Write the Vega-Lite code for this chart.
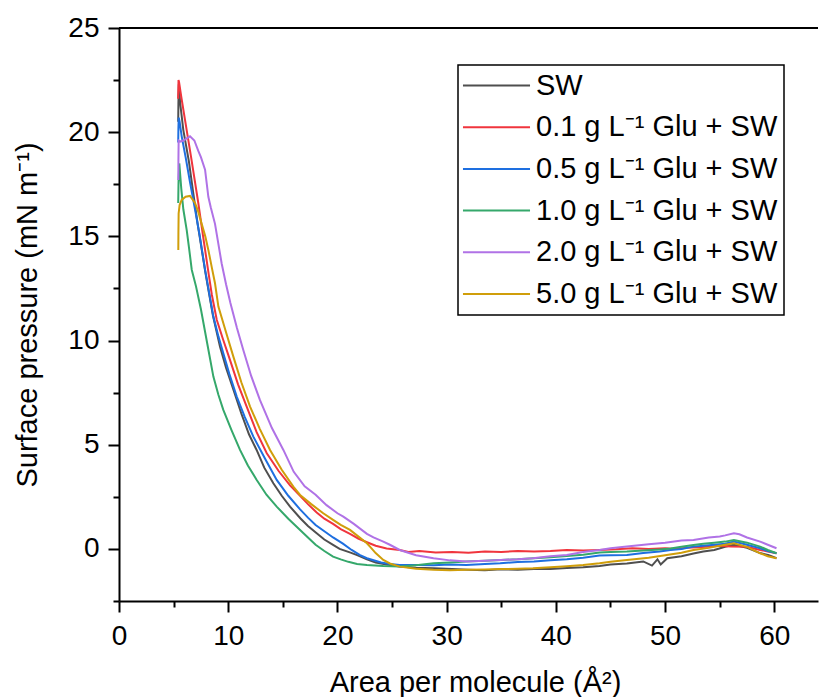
{
"$schema": "https://vega.github.io/schema/vega-lite/v6.json",
"width": 699,
"height": 573,
"autosize": "none",
"padding": {"left": 119, "top": 28, "right": 2, "bottom": 96},
"config": {"font": "Liberation Sans", "view": {"stroke": null}, "legend": {"strokeWidth": 1.5}},
"layer": [
{"data": {"values": [{}]}, "mark": {"type": "rule", "color": "black", "strokeWidth": 2}, "encoding": {"y": {"datum": 25, "type": "quantitative"}}},
{"data": {"values": [
{"s":"SW","x":60.2,"y":-0.45},{"s":"SW","x":59.5,"y":-0.3},{"s":"SW","x":58.7,"y":-0.2},{"s":"SW","x":57.5,"y":0.05},{"s":"SW","x":56.3,"y":0.2},{"s":"SW","x":55.5,"y":0.1},{"s":"SW","x":54.5,"y":-0.05},{"s":"SW","x":53.5,"y":-0.12},{"s":"SW","x":52.6,"y":-0.22},{"s":"SW","x":51.5,"y":-0.35},{"s":"SW","x":50.2,"y":-0.45},{"s":"SW","x":49.6,"y":-0.75},{"s":"SW","x":49.3,"y":-0.5},{"s":"SW","x":48.8,"y":-0.8},{"s":"SW","x":48,"y":-0.6},{"s":"SW","x":46.5,"y":-0.7},{"s":"SW","x":45,"y":-0.75},{"s":"SW","x":44,"y":-0.82},{"s":"SW","x":42.5,"y":-0.88},{"s":"SW","x":41,"y":-0.92},{"s":"SW","x":39.5,"y":-0.97},{"s":"SW","x":38,"y":-0.96},{"s":"SW","x":36.5,"y":-1.0},{"s":"SW","x":35,"y":-0.98},{"s":"SW","x":33.5,"y":-1.02},{"s":"SW","x":32,"y":-1.0},{"s":"SW","x":30.5,"y":-0.97},{"s":"SW","x":28.8,"y":-0.93},{"s":"SW","x":27.2,"y":-0.9},{"s":"SW","x":25.7,"y":-0.85},{"s":"SW","x":24.5,"y":-0.75},{"s":"SW","x":23.5,"y":-0.65},{"s":"SW","x":22.7,"y":-0.5},{"s":"SW","x":21.8,"y":-0.3},{"s":"SW","x":21.2,"y":-0.18},{"s":"SW","x":20.2,"y":0.0},{"s":"SW","x":19.6,"y":0.19},{"s":"SW","x":18.8,"y":0.45},{"s":"SW","x":18.1,"y":0.75},{"s":"SW","x":17.3,"y":1.1},{"s":"SW","x":16.6,"y":1.47},{"s":"SW","x":15.66,"y":2.03},{"s":"SW","x":14.9,"y":2.55},{"s":"SW","x":14.13,"y":3.15},{"s":"SW","x":13.3,"y":3.9},{"s":"SW","x":12.6,"y":4.75},{"s":"SW","x":11.9,"y":5.5},{"s":"SW","x":11.2,"y":6.5},{"s":"SW","x":10.5,"y":7.6},{"s":"SW","x":9.8,"y":8.7},{"s":"SW","x":9.25,"y":9.7},{"s":"SW","x":8.6,"y":11.2},{"s":"SW","x":7.9,"y":13.3},{"s":"SW","x":7.2,"y":15.6},{"s":"SW","x":6.8,"y":17.07},{"s":"SW","x":6.4,"y":18.6},{"s":"SW","x":5.89,"y":20.1},{"s":"SW","x":5.6,"y":21.4},{"s":"SW","x":5.48,"y":22.3},{"s":"SW","x":5.44,"y":21.4},{"s":"SW","x":5.42,"y":20.5},
{"s":"0.1","x":60.2,"y":-0.21},{"s":"0.1","x":59.4,"y":-0.12},{"s":"0.1","x":58.7,"y":-0.05},{"s":"0.1","x":57.5,"y":0.1},{"s":"0.1","x":56,"y":0.11},{"s":"0.1","x":55,"y":0.15},{"s":"0.1","x":54.1,"y":0.11},{"s":"0.1","x":53,"y":0.08},{"s":"0.1","x":52,"y":0.05},{"s":"0.1","x":51,"y":0.0},{"s":"0.1","x":50,"y":0.03},{"s":"0.1","x":48.5,"y":0.0},{"s":"0.1","x":47,"y":0.03},{"s":"0.1","x":45.5,"y":-0.02},{"s":"0.1","x":44,"y":-0.05},{"s":"0.1","x":42.5,"y":-0.08},{"s":"0.1","x":41,"y":-0.05},{"s":"0.1","x":39.5,"y":-0.1},{"s":"0.1","x":38,"y":-0.12},{"s":"0.1","x":36.5,"y":-0.1},{"s":"0.1","x":35,"y":-0.15},{"s":"0.1","x":33.5,"y":-0.13},{"s":"0.1","x":32,"y":-0.18},{"s":"0.1","x":30.5,"y":-0.15},{"s":"0.1","x":29,"y":-0.17},{"s":"0.1","x":27.5,"y":-0.1},{"s":"0.1","x":26.5,"y":-0.15},{"s":"0.1","x":25.7,"y":-0.05},{"s":"0.1","x":24.5,"y":0.02},{"s":"0.1","x":23.5,"y":0.15},{"s":"0.1","x":22.7,"y":0.32},{"s":"0.1","x":21.9,"y":0.5},{"s":"0.1","x":21.15,"y":0.72},{"s":"0.1","x":20.3,"y":0.95},{"s":"0.1","x":19.6,"y":1.2},{"s":"0.1","x":18.8,"y":1.45},{"s":"0.1","x":18.1,"y":1.75},{"s":"0.1","x":17.3,"y":2.15},{"s":"0.1","x":16.58,"y":2.55},{"s":"0.1","x":15.66,"y":3.05},{"s":"0.1","x":14.6,"y":3.75},{"s":"0.1","x":13.53,"y":4.59},{"s":"0.1","x":12.6,"y":5.6},{"s":"0.1","x":11.69,"y":6.83},{"s":"0.1","x":10.9,"y":7.9},{"s":"0.1","x":10.16,"y":9.07},{"s":"0.1","x":9.5,"y":10.1},{"s":"0.1","x":8.95,"y":11.0},{"s":"0.1","x":8.5,"y":12.2},{"s":"0.1","x":8.18,"y":13.3},{"s":"0.1","x":7.7,"y":15.0},{"s":"0.1","x":7.26,"y":16.6},{"s":"0.1","x":6.6,"y":18.8},{"s":"0.1","x":6.04,"y":20.6},{"s":"0.1","x":5.7,"y":21.7},{"s":"0.1","x":5.5,"y":22.4},{"s":"0.1","x":5.45,"y":22.5},{"s":"0.1","x":5.43,"y":22.0},{"s":"0.1","x":5.41,"y":21.6},
{"s":"0.5","x":60.2,"y":-0.21},{"s":"0.5","x":59.4,"y":-0.1},{"s":"0.5","x":58.7,"y":0.03},{"s":"0.5","x":57.5,"y":0.2},{"s":"0.5","x":56.3,"y":0.35},{"s":"0.5","x":55.5,"y":0.25},{"s":"0.5","x":54.5,"y":0.2},{"s":"0.5","x":53.5,"y":0.15},{"s":"0.5","x":52.6,"y":0.11},{"s":"0.5","x":51.5,"y":0.0},{"s":"0.5","x":50.5,"y":-0.05},{"s":"0.5","x":49.5,"y":-0.12},{"s":"0.5","x":48,"y":-0.2},{"s":"0.5","x":46.5,"y":-0.29},{"s":"0.5","x":45,"y":-0.3},{"s":"0.5","x":44,"y":-0.32},{"s":"0.5","x":42.5,"y":-0.42},{"s":"0.5","x":41,"y":-0.5},{"s":"0.5","x":39.5,"y":-0.55},{"s":"0.5","x":38,"y":-0.61},{"s":"0.5","x":36.5,"y":-0.63},{"s":"0.5","x":34.9,"y":-0.69},{"s":"0.5","x":33.5,"y":-0.72},{"s":"0.5","x":31.8,"y":-0.77},{"s":"0.5","x":30.3,"y":-0.75},{"s":"0.5","x":28.8,"y":-0.78},{"s":"0.5","x":27.2,"y":-0.77},{"s":"0.5","x":25.7,"y":-0.77},{"s":"0.5","x":24.8,"y":-0.72},{"s":"0.5","x":24,"y":-0.65},{"s":"0.5","x":22.7,"y":-0.45},{"s":"0.5","x":22.07,"y":-0.3},{"s":"0.5","x":21.3,"y":-0.05},{"s":"0.5","x":20.5,"y":0.25},{"s":"0.5","x":19.6,"y":0.55},{"s":"0.5","x":18.8,"y":0.85},{"s":"0.5","x":18,"y":1.15},{"s":"0.5","x":17.3,"y":1.5},{"s":"0.5","x":16.58,"y":1.9},{"s":"0.5","x":15.5,"y":2.55},{"s":"0.5","x":14.44,"y":3.31},{"s":"0.5","x":13.4,"y":4.3},{"s":"0.5","x":12.3,"y":5.39},{"s":"0.5","x":11.5,"y":6.35},{"s":"0.5","x":10.78,"y":7.31},{"s":"0.5","x":10.1,"y":8.4},{"s":"0.5","x":9.55,"y":9.39},{"s":"0.5","x":9.1,"y":10.2},{"s":"0.5","x":8.64,"y":11.15},{"s":"0.5","x":8.25,"y":12.3},{"s":"0.5","x":7.88,"y":13.4},{"s":"0.5","x":7.4,"y":15.0},{"s":"0.5","x":6.96,"y":16.3},{"s":"0.5","x":6.5,"y":17.6},{"s":"0.5","x":6.1,"y":18.8},{"s":"0.5","x":5.74,"y":19.8},{"s":"0.5","x":5.55,"y":20.5},{"s":"0.5","x":5.47,"y":20.7},{"s":"0.5","x":5.44,"y":20.2},{"s":"0.5","x":5.42,"y":19.5},
{"s":"1.0","x":60.2,"y":-0.21},{"s":"1.0","x":59.4,"y":-0.05},{"s":"1.0","x":58.7,"y":0.11},{"s":"1.0","x":57.5,"y":0.3},{"s":"1.0","x":56.3,"y":0.43},{"s":"1.0","x":55.5,"y":0.35},{"s":"1.0","x":54.5,"y":0.3},{"s":"1.0","x":53.5,"y":0.25},{"s":"1.0","x":52.6,"y":0.19},{"s":"1.0","x":51.5,"y":0.1},{"s":"1.0","x":50.5,"y":0.02},{"s":"1.0","x":49.5,"y":-0.03},{"s":"1.0","x":48,"y":-0.08},{"s":"1.0","x":46.5,"y":-0.13},{"s":"1.0","x":45,"y":-0.15},{"s":"1.0","x":44,"y":-0.17},{"s":"1.0","x":42.5,"y":-0.28},{"s":"1.0","x":41,"y":-0.34},{"s":"1.0","x":39.5,"y":-0.4},{"s":"1.0","x":38,"y":-0.45},{"s":"1.0","x":36.5,"y":-0.5},{"s":"1.0","x":35,"y":-0.53},{"s":"1.0","x":33.5,"y":-0.57},{"s":"1.0","x":31.8,"y":-0.61},{"s":"1.0","x":30.3,"y":-0.65},{"s":"1.0","x":28.8,"y":-0.69},{"s":"1.0","x":27.2,"y":-0.78},{"s":"1.0","x":25.7,"y":-0.85},{"s":"1.0","x":24.2,"y":-0.82},{"s":"1.0","x":22.7,"y":-0.77},{"s":"1.0","x":21.8,"y":-0.72},{"s":"1.0","x":21,"y":-0.62},{"s":"1.0","x":20.3,"y":-0.5},{"s":"1.0","x":19.6,"y":-0.37},{"s":"1.0","x":18.8,"y":-0.1},{"s":"1.0","x":18,"y":0.2},{"s":"1.0","x":17.3,"y":0.55},{"s":"1.0","x":16.58,"y":0.91},{"s":"1.0","x":15.5,"y":1.45},{"s":"1.0","x":14.44,"y":2.03},{"s":"1.0","x":13.5,"y":2.6},{"s":"1.0","x":12.61,"y":3.31},{"s":"1.0","x":11.8,"y":4.0},{"s":"1.0","x":11.08,"y":4.75},{"s":"1.0","x":10.3,"y":5.7},{"s":"1.0","x":9.55,"y":6.67},{"s":"1.0","x":9.1,"y":7.4},{"s":"1.0","x":8.64,"y":8.27},{"s":"1.0","x":8.1,"y":9.8},{"s":"1.0","x":7.5,"y":11.5},{"s":"1.0","x":7.05,"y":12.6},{"s":"1.0","x":6.66,"y":13.4},{"s":"1.0","x":6.4,"y":14.5},{"s":"1.0","x":6.2,"y":15.3},{"s":"1.0","x":5.89,"y":16.3},{"s":"1.0","x":5.7,"y":17.3},{"s":"1.0","x":5.52,"y":18.5},{"s":"1.0","x":5.45,"y":17.6},{"s":"1.0","x":5.42,"y":16.6},
{"s":"2.0","x":60.2,"y":0.03},{"s":"2.0","x":59.4,"y":0.2},{"s":"2.0","x":58.7,"y":0.35},{"s":"2.0","x":57.5,"y":0.55},{"s":"2.0","x":56.8,"y":0.7},{"s":"2.0","x":56.3,"y":0.75},{"s":"2.0","x":55.5,"y":0.65},{"s":"2.0","x":55,"y":0.6},{"s":"2.0","x":54,"y":0.55},{"s":"2.0","x":52.6,"y":0.43},{"s":"2.0","x":51.5,"y":0.4},{"s":"2.0","x":50,"y":0.3},{"s":"2.0","x":48.5,"y":0.22},{"s":"2.0","x":46.5,"y":0.11},{"s":"2.0","x":45,"y":0.03},{"s":"2.0","x":44,"y":-0.05},{"s":"2.0","x":42.5,"y":-0.15},{"s":"2.0","x":41,"y":-0.29},{"s":"2.0","x":39.5,"y":-0.35},{"s":"2.0","x":37.9,"y":-0.45},{"s":"2.0","x":36.5,"y":-0.5},{"s":"2.0","x":34.9,"y":-0.53},{"s":"2.0","x":33.5,"y":-0.57},{"s":"2.0","x":31.8,"y":-0.61},{"s":"2.0","x":30.3,"y":-0.55},{"s":"2.0","x":28.8,"y":-0.45},{"s":"2.0","x":27.2,"y":-0.3},{"s":"2.0","x":25.7,"y":-0.05},{"s":"2.0","x":24.8,"y":0.2},{"s":"2.0","x":24.2,"y":0.35},{"s":"2.0","x":23.3,"y":0.55},{"s":"2.0","x":22.7,"y":0.72},{"s":"2.0","x":21.5,"y":1.2},{"s":"2.0","x":20.54,"y":1.55},{"s":"2.0","x":20,"y":1.71},{"s":"2.0","x":19,"y":2.1},{"s":"2.0","x":18,"y":2.6},{"s":"2.0","x":17,"y":3.0},{"s":"2.0","x":16,"y":3.7},{"s":"2.0","x":15.05,"y":4.75},{"s":"2.0","x":14,"y":5.8},{"s":"2.0","x":12.9,"y":7.15},{"s":"2.0","x":12.1,"y":8.3},{"s":"2.0","x":11.38,"y":9.55},{"s":"2.0","x":10.8,"y":10.6},{"s":"2.0","x":10.2,"y":11.8},{"s":"2.0","x":9.8,"y":12.7},{"s":"2.0","x":9.4,"y":13.7},{"s":"2.0","x":8.79,"y":15.6},{"s":"2.0","x":8.4,"y":16.4},{"s":"2.0","x":8.18,"y":16.9},{"s":"2.0","x":7.88,"y":18.2},{"s":"2.0","x":7.5,"y":18.8},{"s":"2.0","x":7.26,"y":19.1},{"s":"2.0","x":6.9,"y":19.6},{"s":"2.0","x":6.5,"y":19.8},{"s":"2.0","x":6.2,"y":19.7},{"s":"2.0","x":5.9,"y":19.6},{"s":"2.0","x":5.6,"y":19.55},{"s":"2.0","x":5.46,"y":19.6},{"s":"2.0","x":5.44,"y":18.6},{"s":"2.0","x":5.43,"y":17.7},
{"s":"5.0","x":60.2,"y":-0.45},{"s":"5.0","x":59.4,"y":-0.35},{"s":"5.0","x":58.7,"y":-0.21},{"s":"5.0","x":57.5,"y":0.1},{"s":"5.0","x":56.3,"y":0.27},{"s":"5.0","x":55.5,"y":0.2},{"s":"5.0","x":55,"y":0.15},{"s":"5.0","x":54,"y":0.05},{"s":"5.0","x":52.6,"y":-0.05},{"s":"5.0","x":51.5,"y":-0.18},{"s":"5.0","x":50,"y":-0.3},{"s":"5.0","x":48.5,"y":-0.42},{"s":"5.0","x":46.5,"y":-0.53},{"s":"5.0","x":45,"y":-0.62},{"s":"5.0","x":44,"y":-0.69},{"s":"5.0","x":42.5,"y":-0.77},{"s":"5.0","x":41,"y":-0.83},{"s":"5.0","x":39.5,"y":-0.88},{"s":"5.0","x":37.9,"y":-0.93},{"s":"5.0","x":36.5,"y":-0.95},{"s":"5.0","x":34.9,"y":-0.97},{"s":"5.0","x":33.5,"y":-0.99},{"s":"5.0","x":31.8,"y":-1.0},{"s":"5.0","x":30.3,"y":-1.02},{"s":"5.0","x":28.8,"y":-1.0},{"s":"5.0","x":27.2,"y":-0.95},{"s":"5.0","x":25.7,"y":-0.85},{"s":"5.0","x":24.8,"y":-0.7},{"s":"5.0","x":24.2,"y":-0.53},{"s":"5.0","x":23.5,"y":-0.2},{"s":"5.0","x":22.98,"y":0.11},{"s":"5.0","x":22.7,"y":0.27},{"s":"5.0","x":21.9,"y":0.6},{"s":"5.0","x":21.15,"y":0.91},{"s":"5.0","x":20.3,"y":1.15},{"s":"5.0","x":19.6,"y":1.39},{"s":"5.0","x":18.7,"y":1.71},{"s":"5.0","x":17.6,"y":2.15},{"s":"5.0","x":16.58,"y":2.59},{"s":"5.0","x":15.96,"y":2.99},{"s":"5.0","x":14.9,"y":3.8},{"s":"5.0","x":13.83,"y":4.75},{"s":"5.0","x":12.9,"y":5.75},{"s":"5.0","x":12.0,"y":6.83},{"s":"5.0","x":11.2,"y":8.0},{"s":"5.0","x":10.47,"y":9.23},{"s":"5.0","x":9.8,"y":10.4},{"s":"5.0","x":9.1,"y":11.63},{"s":"5.0","x":8.79,"y":12.75},{"s":"5.0","x":8.5,"y":13.5},{"s":"5.0","x":8.18,"y":14.35},{"s":"5.0","x":7.9,"y":15.0},{"s":"5.0","x":7.57,"y":15.6},{"s":"5.0","x":7.25,"y":16.2},{"s":"5.0","x":6.96,"y":16.6},{"s":"5.0","x":6.5,"y":16.94},{"s":"5.0","x":6.1,"y":16.9},{"s":"5.0","x":5.74,"y":16.75},{"s":"5.0","x":5.55,"y":16.5},{"s":"5.0","x":5.46,"y":16.1},{"s":"5.0","x":5.44,"y":15.2},{"s":"5.0","x":5.43,"y":14.35}
]},
"mark": {"type": "line", "strokeWidth": 2},
"encoding": {
"x": {"field": "x", "type": "quantitative", "scale": {"domain": [0, 64], "nice": false, "zero": false},
 "axis": {"values": [0,5,10,15,20,25,30,35,40,45,50,55,60], "labelExpr": "datum.value % 10 === 0 ? format(datum.value, 'd') : ''",
  "tickSize": {"condition": {"test": "datum.value % 10 === 0", "value": 11}, "value": 6},
  "tickWidth": 2, "tickColor": "black", "domainWidth": 2, "domainColor": "black", "grid": false,
  "labelFontSize": 28, "labelColor": "black", "labelPadding": 10, "labelFlush": false,
  "title": "Area per molecule (Å²)", "titleFontSize": 29, "titleFontWeight": "normal", "titleColor": "black", "titlePadding": 18, "titleX": 356}},
"y": {"field": "y", "type": "quantitative", "scale": {"domain": [-2.5, 25], "nice": false, "zero": false},
 "axis": {"values": [-2.5,0,2.5,5,7.5,10,12.5,15,17.5,20,22.5,25], "labelExpr": "datum.value % 5 === 0 ? format(datum.value, 'd') : ''",
  "tickSize": {"condition": {"test": "datum.value % 5 === 0", "value": 11}, "value": 6},
  "tickWidth": 2, "tickColor": "black", "domainWidth": 2, "domainColor": "black", "grid": false,
  "labelFontSize": 28, "labelColor": "black", "labelPadding": 9, "labelFlush": false,
  "title": "Surface pressure (mN m⁻¹)", "titleFontSize": 29, "titleFontWeight": "normal", "titleColor": "black", "titlePadding": 25}},
"color": {"field": "s", "type": "nominal",
 "scale": {"domain": ["SW","0.1","0.5","1.0","2.0","5.0"], "range": ["#4F4F4F","#F0353D","#1E6FE0","#35A86B","#B072E6","#D09E0A"]},
 "legend": {"orient": "none", "legendX": 339, "legendY": 37, "title": null, "symbolType": "M-4,0H4", "symbolSize": 281, "symbolStrokeWidth": 2, "symbolOffset": 18,
  "labelFontSize": 29, "labelColor": "black", "labelOffset": 25, "labelLimit": 500, "rowPadding": 11.7, "padding": 6, "strokeColor": "black",
  "labelExpr": "datum.label == 'SW' ? 'SW' : datum.label + ' g L⁻¹ Glu + SW'"}}
}}
]
}
